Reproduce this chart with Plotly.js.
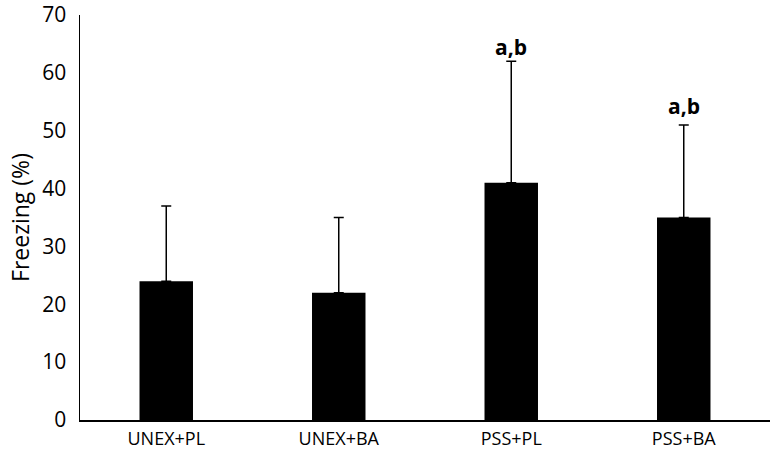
<!DOCTYPE html>
<html>
<head>
<meta charset="utf-8">
<script src="https://cdn.plot.ly/plotly-3.0.1.min.js"></script>
<style>
  html, body { margin: 0; padding: 0; background: #fff; }
  #chart { width: 774px; height: 450px; }
</style>
</head>
<body>
<div id="chart"></div>
<script>
// group names and mean freezing (%) with upward SD
const groups = ["UNEX+PL", "UNEX+BA", "PSS+PL", "PSS+BA"];
const freezing = [24, 22, 41, 35];
const sd = [13, 13, 21, 16];
// significance marks
const markGroups = ["PSS+PL", "PSS+BA"];
const markY = [64.5, 54.2];
const markText = ["a,b", "a,b"];
const yTicks = [0, 10, 20, 30, 40, 50, 60, 70];

const font = "Open Sans, sans-serif";

const bars = {
  type: "bar",
  x: groups,
  y: freezing,
  width: 0.31,
  marker: { color: "#000000", line: { width: 0 } },
  error_y: {
    type: "data",
    symmetric: false,
    array: sd,
    arrayminus: [0, 0, 0, 0],
    color: "#000000",
    thickness: 1.5,
    width: 5,
  },
  hoverinfo: "skip",
};

const annotations = markGroups.map((g, i) => ({
  x: g,
  y: markY[i],
  xref: "x",
  yref: "y",
  text: "<b>" + markText[i] + "</b>",
  showarrow: false,
  font: { family: font, size: 21, color: "#000" },
}));

const layout = {
  width: 774,
  height: 450,
  margin: { l: 80, r: 4, t: 15, b: 30 },
  paper_bgcolor: "#fff",
  plot_bgcolor: "#fff",
  font: { family: font, color: "#000" },
  showlegend: false,
  xaxis: {
    type: "category",
    range: [-0.5, 3.5],
    showline: true,
    linecolor: "#000",
    linewidth: 1.5,
    ticks: "",
    showgrid: false,
    zeroline: false,
    ticklabelstandoff: 2,
    tickfont: { family: font, size: 18, color: "#000" },
  },
  yaxis: {
    range: [0, 70],
    tickmode: "array",
    tickvals: yTicks,
    ticktext: yTicks.map(String),
    ticklabeloverflow: "allow",
    showline: true,
    linecolor: "#000",
    linewidth: 1.5,
    ticks: "",
    showgrid: false,
    zeroline: false,
    ticklabelstandoff: 8,
    tickfont: { family: font, size: 21, color: "#000" },
    title: {
      text: "Freezing (%)",
      font: { family: font, size: 23, color: "#000" },
      standoff: 6,
    },
  },
  annotations: annotations,
};

Plotly.newPlot("chart", [bars], layout, { displayModeBar: false, staticPlot: true });
</script>
</body>
</html>
